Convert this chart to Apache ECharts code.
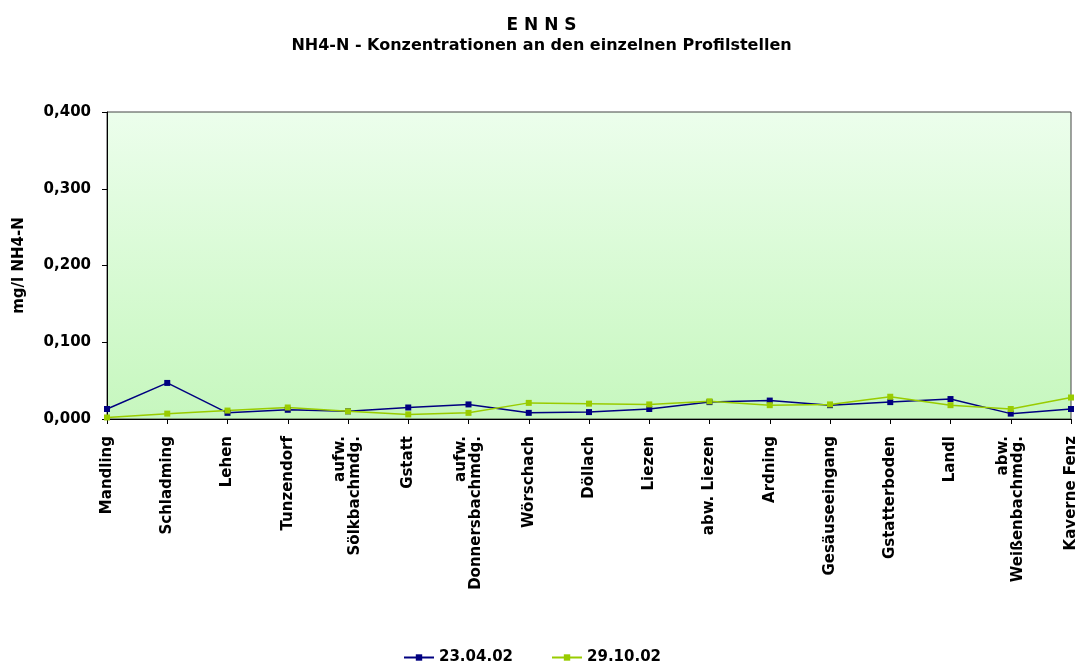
<!DOCTYPE html>
<html>
<head>
<meta charset="utf-8">
<script src="https://cdn.jsdelivr.net/npm/echarts@6/dist/echarts.min.js"></script>
<style>
  html, body { margin: 0; padding: 0; background: #fff; }
  #chart { width: 1083px; height: 663px; }
</style>
</head>
<body>
<div id="chart"></div>
<script>
// Profilstellen entlang der Enns
const categories = [
  "Mandling", "Schladming", "Lehen", "Tunzendorf", "aufw.\nSölkbachmdg.",
  "Gstatt", "aufw.\nDonnersbachmdg.", "Wörschach", "Döllach", "Liezen",
  "abw. Liezen", "Ardning", "Gesäuseeingang", "Gstatterboden", "Landl",
  "abw.\nWeißenbachmdg.", "Kaverne Fenz"
]

// NH4-N in mg/l
const values_230402 = [0.013, 0.047, 0.008, 0.012, 0.010, 0.015, 0.019, 0.008, 0.009, 0.013, 0.022, 0.024, 0.018, 0.022, 0.026, 0.007, 0.013]
const values_291002 = [0.002, 0.007, 0.011, 0.015, 0.010, 0.006, 0.008, 0.021, 0.020, 0.019, 0.023, 0.018, 0.019, 0.029, 0.018, 0.013, 0.028]

const seriesNames = ["23.04.02", "29.10.02"]

const font = "DejaVu Sans"
const txt = { fontFamily: font, fontWeight: "bold", fontSize: 15, color: "#000" }

const chart = echarts.init(document.getElementById("chart"))

const option = {
  backgroundColor: "#fff",
  animation: false,
  title: [
    { text: "E N N S", left: "center", top: 12, textStyle: { ...txt, fontSize: 17 } },
    { text: "NH4-N - Konzentrationen an den einzelnen Profilstellen", left: "center", top: 33, textStyle: { ...txt, fontSize: 16 } }
  ],
  legend: {
    top: 645,
    left: 398,
    itemWidth: 30,
    itemHeight: 8,
    itemGap: 38,
    textStyle: { ...txt },
    data: seriesNames
  },
  grid: {
    left: 107,
    right: 12,
    top: 112,
    bottom: 244,
    show: true,
    borderColor: "#444",
    borderWidth: 1,
    backgroundColor: {
      type: "linear", x: 0, y: 0, x2: 0, y2: 1,
      colorStops: [
        { offset: 0, color: "#ecfeec" },
        { offset: 1, color: "#c6f7be" }
      ]
    }
  },
  xAxis: {
    type: "category",
    data: categories,
    boundaryGap: false,
    axisLine: { lineStyle: { color: "#000", width: 1 } },
    axisTick: { show: true, length: 5, inside: false, lineStyle: { color: "#000" } },
    axisLabel: { ...txt, rotate: 90, interval: 0, margin: 17, lineHeight: 15 },
    splitLine: { show: false }
  },
  yAxis: {
    type: "value",
    min: 0,
    max: 0.4,
    interval: 0.1,
    name: "mg/l NH4-N",
    nameLocation: "middle",
    nameRotate: 90,
    nameGap: 80,
    nameTextStyle: { ...txt },
    axisLine: { show: true, lineStyle: { color: "#000", width: 1 } },
    axisTick: { show: true, length: 5, lineStyle: { color: "#000" } },
    axisLabel: {
      ...txt,
      margin: 16,
      formatter: v => v.toFixed(3).replace(".", ",")
    },
    splitLine: { show: false }
  },
  series: [
    {
      name: seriesNames[0],
      type: "line",
      data: values_230402,
      symbol: "rect",
      symbolSize: 6,
      showAllSymbol: true,
      color: "#000080",
      lineStyle: { width: 1.5, color: "#000080" },
      itemStyle: { color: "#000080" }
    },
    {
      name: seriesNames[1],
      type: "line",
      data: values_291002,
      symbol: "rect",
      symbolSize: 6,
      showAllSymbol: true,
      color: "#99cc00",
      lineStyle: { width: 1.5, color: "#99cc00" },
      itemStyle: { color: "#99cc00" }
    }
  ]
}

chart.setOption(option)
</script>
</body>
</html>
